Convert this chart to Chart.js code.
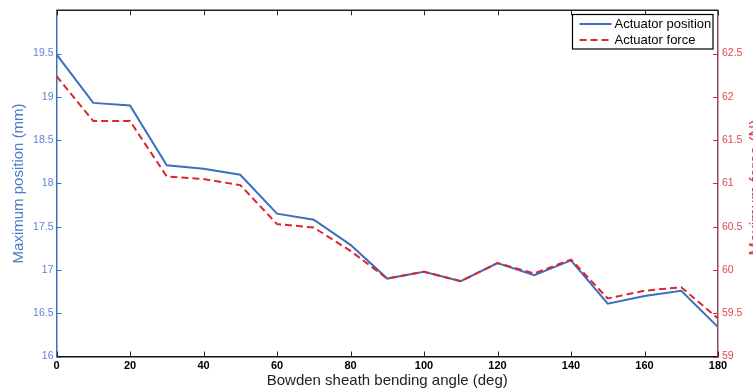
<!DOCTYPE html>
<html>
<head>
<meta charset="utf-8">
<script src="https://cdn.jsdelivr.net/npm/chart.js@4"></script>
<style>
html,body{margin:0;padding:0;background:#fff;overflow:hidden;}
#wrap{position:relative;width:753px;height:391px;}
</style>
</head>
<body>
<div id="wrap"><canvas id="c"></canvas></div>
<script>
// ---- data ----
const angles = [0,10,20,30,40,50,60,70,80,90,100,110,120,130,140,150,160,170,180];
const positionMm = [19.49,18.93,18.90,18.21,18.17,18.10,17.65,17.58,17.29,16.90,16.98,16.87,17.08,16.94,17.11,16.61,16.70,16.76,16.34];
const forceN = [62.24,61.72,61.72,61.08,61.05,60.98,60.53,60.49,60.22,59.90,59.98,59.87,60.08,59.96,60.12,59.67,59.76,59.80,59.44];
const seriesNames = ['Actuator position','Actuator force'];
const xTitle = 'Bowden sheath bending angle (deg)';
const yLeftTitle = 'Maximum position (mm)';
const yRightTitle = 'Maximum force (N)';

const BLUE = '#3d6fbf';
const RED = '#d9272f';
const FONT = '"Liberation Sans", Arial, Helvetica, sans-serif';
Chart.defaults.font.family = FONT;

const dropMax = s => { s.ticks = s.ticks.filter(t => t.value < s.max - 1e-9); };
const fmt = v => String(Math.round(v * 10) / 10);

const decor = {
  id: 'decor',
  afterDatasetsDraw(chart) {
    const ctx = chart.ctx, ca = chart.chartArea;
    const x = chart.scales.x, yl = chart.scales.y, yr = chart.scales.y1;
    ctx.save();
    // top border
    ctx.strokeStyle = '#222';
    ctx.lineWidth = 1.5;
    ctx.beginPath(); ctx.moveTo(ca.left, ca.top); ctx.lineTo(ca.right, ca.top); ctx.stroke();
    // x ticks (inward), top and bottom
    ctx.lineWidth = 1;
    x.ticks.forEach(t => {
      const px = Math.round(x.getPixelForValue(t.value)) + 0.5;
      ctx.beginPath();
      ctx.moveTo(px, ca.bottom); ctx.lineTo(px, ca.bottom - 5);
      ctx.moveTo(px, ca.top); ctx.lineTo(px, ca.top + 5);
      ctx.stroke();
    });
    // left y ticks
    ctx.strokeStyle = BLUE;
    yl.ticks.forEach(t => {
      const py = Math.round(yl.getPixelForValue(t.value)) + 0.5;
      ctx.beginPath(); ctx.moveTo(ca.left, py); ctx.lineTo(ca.left + 5, py); ctx.stroke();
    });
    // right y ticks
    ctx.strokeStyle = RED;
    yr.ticks.forEach(t => {
      const py = Math.round(yr.getPixelForValue(t.value)) + 0.5;
      ctx.beginPath(); ctx.moveTo(ca.right, py); ctx.lineTo(ca.right - 5, py); ctx.stroke();
    });
    // right title (reads bottom to top, clipped at canvas edge)
    ctx.fillStyle = '#d8353b';
    ctx.font = '16px ' + FONT;
    ctx.textAlign = 'center'; ctx.textBaseline = 'middle';
    ctx.translate(757, 187.5);
    ctx.rotate(-Math.PI / 2);
    ctx.fillText(yRightTitle, 0, 0);
    ctx.restore();

    // legend
    ctx.save();
    const bx = 572.5, by = 14.5, bw = 140.5, bh = 34.5;
    ctx.fillStyle = '#fff';
    ctx.fillRect(bx, by, bw, bh);
    ctx.strokeStyle = '#000'; ctx.lineWidth = 1.2;
    ctx.strokeRect(bx, by, bw, bh);
    ctx.font = '13px ' + FONT;
    ctx.textAlign = 'left'; ctx.textBaseline = 'middle';
    chart.data.datasets.forEach((ds, i) => {
      const yy = by + 9.5 + i * 16;
      ctx.strokeStyle = ds.borderColor; ctx.lineWidth = 2;
      ctx.setLineDash(ds.borderDash || []);
      ctx.beginPath(); ctx.moveTo(bx + 7, yy); ctx.lineTo(bx + 39, yy); ctx.stroke();
      ctx.setLineDash([]);
      ctx.fillStyle = '#000';
      ctx.fillText(ds.label, bx + 42, yy + 0.5);
    });
    ctx.restore();
  }
};

new Chart(document.getElementById('c'), {
  type: 'line',
  data: {
    datasets: [
      { label: seriesNames[0], data: angles.map((a,i)=>({x:a,y:positionMm[i]})), yAxisID: 'y',
        borderColor: BLUE, borderWidth: 2, pointRadius: 0, tension: 0, fill: false, order: 1 },
      { label: seriesNames[1], data: angles.map((a,i)=>({x:a,y:forceN[i]})), yAxisID: 'y1',
        borderColor: RED, borderWidth: 2, borderDash: [7,4], pointRadius: 0, tension: 0, fill: false, order: 0 }
    ]
  },
  options: {
    responsive: true,
    maintainAspectRatio: false,
    animation: false,
    devicePixelRatio: 1,
    layout: { padding: { top: 9, left: 0, right: 0, bottom: 0 } },
    plugins: { legend: { display: false }, tooltip: { enabled: false }, title: { display: false } },
    scales: {
      x: {
        type: 'linear', position: 'bottom', min: 0, max: 180,
        ticks: { stepSize: 20, autoSkip: false, maxRotation: 0, color: '#000', padding: 3,
                 font: { size: 11, weight: 'bold' }, callback: v => fmt(v) },
        grid: { display: false, drawTicks: false },
        border: { display: true, color: '#111', width: 1.5 },
        title: { display: true, text: xTitle, color: '#222', font: { size: 15 }, padding: { top: 0, bottom: 1 } },
        afterFit: s => { s.height = 34.5; }
      },
      y: {
        type: 'linear', position: 'left', min: 16, max: 20,
        afterBuildTicks: dropMax,
        ticks: { stepSize: 0.5, color: '#5a86cf', padding: 3, font: { size: 10.5 }, callback: v => fmt(v) },
        grid: { display: false, drawTicks: false },
        border: { display: true, color: BLUE, width: 1.5 },
        title: { display: true, text: yLeftTitle, color: '#4a7cca', font: { size: 15 }, padding: { top: 10, bottom: 0 } },
        afterFit: s => { s.width = 56.5; }
      },
      y1: {
        type: 'linear', position: 'right', min: 59, max: 63,
        afterBuildTicks: dropMax,
        ticks: { stepSize: 0.5, color: '#e2474d', padding: 4, font: { size: 10.5 }, callback: v => fmt(v) },
        grid: { display: false, drawTicks: false },
        border: { display: true, color: '#8e4a62', width: 1.5 },
        afterFit: s => { s.width = 35; }
      }
    }
  },
  plugins: [decor]
});
</script>
</body>
</html>
